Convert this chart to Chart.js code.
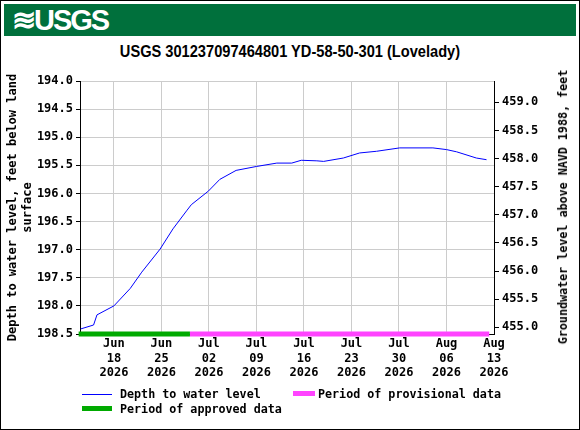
<!DOCTYPE html><html><head><meta charset="utf-8">
<script src="https://cdn.jsdelivr.net/npm/chart.js@4"></script>
<style>
body{margin:0;width:580px;height:430px;position:relative;background:#fff;overflow:hidden}
#frame{position:absolute;left:0;top:0;width:578px;height:428px;border:1px solid #000}
#hdr{position:absolute;left:4px;top:4px;width:572px;height:32px;background:#00703c;color:#fff;font:bold 29px "Liberation Sans",sans-serif;line-height:32px;text-indent:8px;letter-spacing:-2px}
#ttl{position:absolute;left:0;top:42px;width:580px;text-align:center;font:bold 17px "Liberation Sans",sans-serif;transform:scaleX(0.86)}
canvas{position:absolute;left:0;top:0}
.lg{position:absolute;font:bold 11.7px "DejaVu Sans Mono",monospace}
.sw{position:absolute}
#rt{position:absolute;left:563px;top:207px;font:bold 11.7px "DejaVu Sans Mono",monospace;white-space:nowrap;transform:translate(-50%,-50%) rotate(-90deg)}
</style></head><body>
<div id="frame"></div><div id="hdr">≋USGS</div>
<div id="ttl">USGS 301237097464801 YD-58-50-301 (Lovelady)</div>
<canvas id="c" width="580" height="430"></canvas>
<div id="rt">Groundwater level above NAVD 1988, feet</div>
<div class="sw" style="left:82px;top:394px;width:30px;height:1px;background:#00f"></div>
<div class="lg" style="left:120px;top:387px">Depth to water level</div>
<div class="sw" style="left:293px;top:391px;width:22px;height:5px;background:#f4f"></div>
<div class="lg" style="left:318px;top:387px">Period of provisional data</div>
<div class="sw" style="left:82px;top:406px;width:30px;height:5px;background:#0a0"></div>
<div class="lg" style="left:120px;top:402px">Period of approved data</div>
<script>
const days=[13.1,15,15.5,18,20.4,22.1,24.8,26.7,28.7,29.4,31.9,33.6,36,39,42,44.2,45.6,47.9,48.9,51.8,54.2,56.7,60.1,65,67,68.5,71.4,72.9];
const depth=[198.41,198.34,198.16,198.0,197.69,197.40,196.99,196.63,196.31,196.2,195.96,195.75,195.59,195.52,195.46,195.46,195.41,195.42,195.43,195.37,195.28,195.25,195.19,195.19,195.22,195.26,195.37,195.40];
const tickDays=[18,25,32,39,46,53,60,67,74];
const tickLabels=[["Jun","18","2026"],["Jun","25","2026"],["Jul","02","2026"],["Jul","09","2026"],["Jul","16","2026"],["Jul","23","2026"],["Jul","30","2026"],["Aug","06","2026"],["Aug","13","2026"]];
const approved=[12.8,29.2], provisional=[29.2,73.3];
const OFF=653.38;
const f={family:"DejaVu Sans Mono",weight:"bold",size:12};
new Chart(document.getElementById('c'),{type:'line',data:{datasets:[
{data:days.map((d,i)=>({x:d,y:depth[i]})),borderColor:'#00f',borderWidth:1,pointRadius:0,tension:0},
{data:approved.map(d=>({x:d,y:198.5})),borderColor:'#0a0',borderWidth:5,pointRadius:0,clip:false,borderCapStyle:'butt'},
{data:provisional.map(d=>({x:d,y:198.5})),borderColor:'#f4f',borderWidth:5,pointRadius:0,clip:false,borderCapStyle:'butt'}]},
options:{responsive:false,animation:false,layout:{padding:{top:81,bottom:46,left:0,right:0}},
plugins:{legend:{display:false},tooltip:{enabled:false}},
scales:{
x:{type:'linear',min:13,max:74,afterBuildTicks:s=>{s.ticks=tickDays.map(v=>({value:v}))},
ticks:{callback:(v)=>tickLabels[tickDays.indexOf(v)],color:'#000',font:f,maxRotation:0,autoSkip:false},
grid:{color:'#ccc',drawTicks:false},border:{color:'#000'},afterFit:s=>{s.height=50}},
y:{reverse:true,min:194,max:198.5,afterBuildTicks:s=>{s.ticks=[194,194.5,195,195.5,196,196.5,197,197.5,198,198.5].map(v=>({value:v}))},
ticks:{callback:v=>v.toFixed(1),color:'#000',font:f},grid:{color:'#ccc',tickLength:4,tickColor:'#000'},border:{color:'#000'},
title:{display:true,text:["Depth to water level, feet below land","surface"],color:'#000',font:f,padding:{top:6,bottom:0}},afterFit:s=>{s.width=80}},
y2:{position:'right',min:OFF-198.5,max:OFF-194,afterBuildTicks:s=>{s.ticks=[455,455.5,456,456.5,457,457.5,458,458.5,459].map(v=>({value:v}))},
ticks:{callback:v=>v.toFixed(1),color:'#000',font:f},grid:{drawOnChartArea:false,tickLength:5,tickColor:'#000'},border:{color:'#000'},
afterFit:s=>{s.width=86}}
}}});
</script></body></html>
